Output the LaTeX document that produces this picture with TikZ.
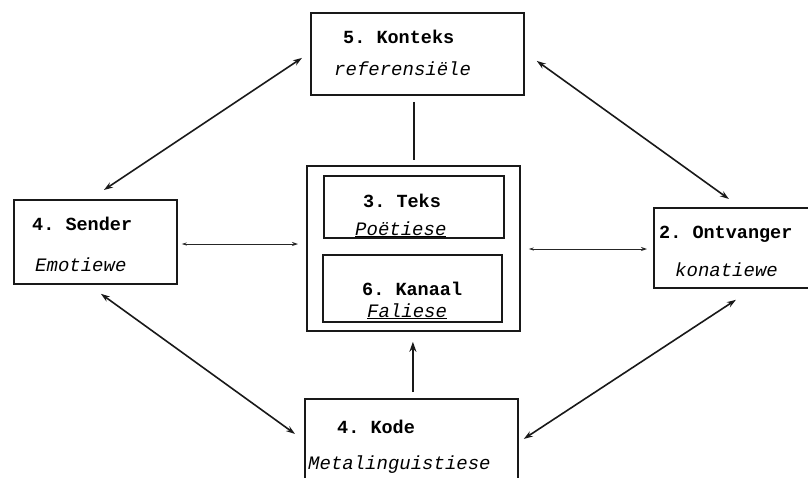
\documentclass[tikz,border=0pt]{standalone}
\usepackage{fontspec}
\setmonofont{Liberation Mono}
\usetikzlibrary{arrows.meta}
\begin{document}
\begin{tikzpicture}[x=1pt,y=-1pt,
  box/.style={draw=black!90,line width=1.8pt,inner sep=0pt,anchor=north west},
  ttl/.style={font=\ttfamily\bfseries\fontsize{18.5}{18.5}\selectfont,anchor=base west,inner sep=0pt},
  sub/.style={font=\ttfamily\itshape\fontsize{19}{19}\selectfont,anchor=base west,inner sep=0pt},
  dbl/.style={{Stealth[length=9pt,width=6pt]}-{Stealth[length=9pt,width=6pt]},line width=1.6pt,black!90},
  thinarr/.style={{Stealth[length=5pt,width=3pt]}-{Stealth[length=6pt,width=4pt]},line width=0.8pt,black!85},
  uparr/.style={-{Stealth[length=10pt,width=7pt]},line width=2.2pt,black!90}]
\useasboundingbox[fill=white] (0,0) rectangle (808,477);

% boxes
\node[box,minimum width=213pt,minimum height=82pt] (konteks) at (310,12) {};
\node[box,minimum width=163pt,minimum height=84pt] (sender) at (13,199) {};
\node[box,minimum width=162pt,minimum height=80pt] (ontv) at (653,207) {};
\node[box,minimum width=213pt,minimum height=92pt] (kode) at (304,398) {};
\node[box,minimum width=213pt,minimum height=165pt] (outer) at (306,165) {};
\node[box,minimum width=180pt,minimum height=62pt,line width=1.6pt] (teks) at (323,175) {};
\node[box,minimum width=179pt,minimum height=67pt,line width=1.6pt] (kanaal) at (322,254) {};

% texts
\node[ttl] (t5) at (343,43) {5. Konteks};
\node[sub] (s5) at (334,75) {referensiële};
\node[ttl] (t4) at (32,230) {4. Sender};
\node[sub] (s4) at (35,271) {Emotiewe};
\node[ttl] (t3) at (363,207) {3. Teks};
\node[sub] (s3) at (355,235) {\underline{Poëtiese}};
\node[ttl] (t6) at (362,295) {6. Kanaal};
\node[sub] (s6) at (367,317) {\underline{Faliese}};
\node[ttl] (t2) at (659,238) {2. Ontvanger};
\node[sub] (s2) at (675,276) {konatiewe};
\node[ttl] (tk) at (337,433) {4. Kode};
\node[sub] (sk) at (308,469) {Metalinguistiese};

% connectors
\draw[dbl] ([shift={(-8,4)}]konteks.west) -- ([shift={(8.5,-9)}]sender.north);
\draw[dbl] ([shift={(12,7)}]konteks.east) -- ([shift={(-6,-8)}]ontv.north);
\draw[dbl] ([shift={(5.5,9)}]sender.south) -- ([shift={(-9,-11)}]kode.west);
\draw[dbl] ([shift={(5,-6)}]kode.east) -- ([shift={(1,11)}]ontv.south);
\draw[line width=1.6pt,black!90] ([shift={(-3.5,6)}]konteks.south) -- ([shift={(0.5,-5)}]outer.north);
\draw[uparr] ([shift={(1.5,-6)}]kode.north) -- ([shift={(-0.5,10)}]outer.south);
\draw[thinarr] ([shift={(4,45)}]sender.north east) -- ([shift={(-8,79)}]outer.north west);
\draw[thinarr] ([shift={(8,84)}]outer.north east) -- ([shift={(-6,42)}]ontv.north west);
\end{tikzpicture}
\end{document}
